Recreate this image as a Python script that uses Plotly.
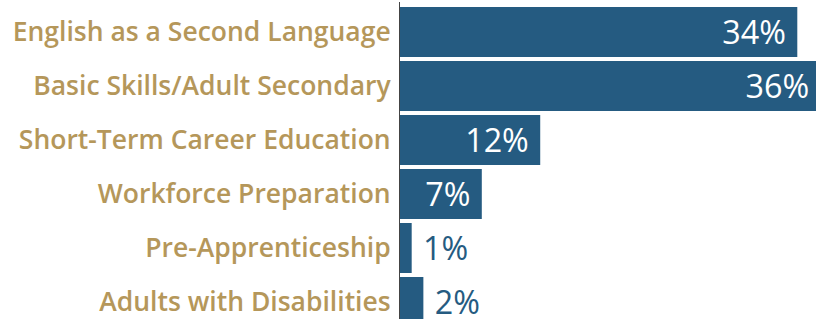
import plotly.graph_objects as go

categories = [
    "English as a Second Language",
    "Basic Skills/Adult Secondary",
    "Short-Term Career Education",
    "Workforce Preparation",
    "Pre-Apprenticeship",
    "Adults with Disabilities",
]
values = [34, 36, 12, 7, 1, 2]

BAR = "#255b81"
GOLD = "#b5975a"
NB = "\u00a0"

positions = ["inside" if v >= 5 else "outside" for v in values]
texts = [f"{v}%{NB}" if p == "inside" else f"{NB}{v}%" for v, p in zip(values, positions)]

fig = go.Figure(
    go.Bar(
        y=categories,
        x=values,
        orientation="h",
        marker=dict(color=BAR, line=dict(width=0)),
        text=texts,
        textposition=positions,
        insidetextanchor="end",
        insidetextfont=dict(color="white", size=36, family="Open Sans"),
        outsidetextfont=dict(color=BAR, size=36, family="Open Sans"),
        cliponaxis=True,
    )
)

fig.update_layout(
    width=816,
    height=319,
    margin=dict(l=400, r=0, t=2, b=0, autoexpand=False),
    paper_bgcolor="white",
    plot_bgcolor="white",
    bargap=0.074,
    showlegend=False,
    uniformtext=dict(minsize=8, mode="show"),
)
fig.update_xaxes(range=[0, 35.6], visible=False, showgrid=False, zeroline=False,
                 automargin=False)
fig.update_yaxes(
    categoryorder="array",
    categoryarray=categories,
    range=[5.315, -0.556],
    automargin=False,
    showline=True,
    linecolor="#444444",
    linewidth=1,
    showgrid=False,
    ticks="",
    ticklabelstandoff=3,
    tickfont=dict(color=GOLD, size=26.5, family="Open Sans", weight=600),
)

fig.write_html(
    "out.html",
    config={"displayModeBar": False},
    post_script="document.body.style.margin='0';document.body.style.overflow='hidden';",
)
